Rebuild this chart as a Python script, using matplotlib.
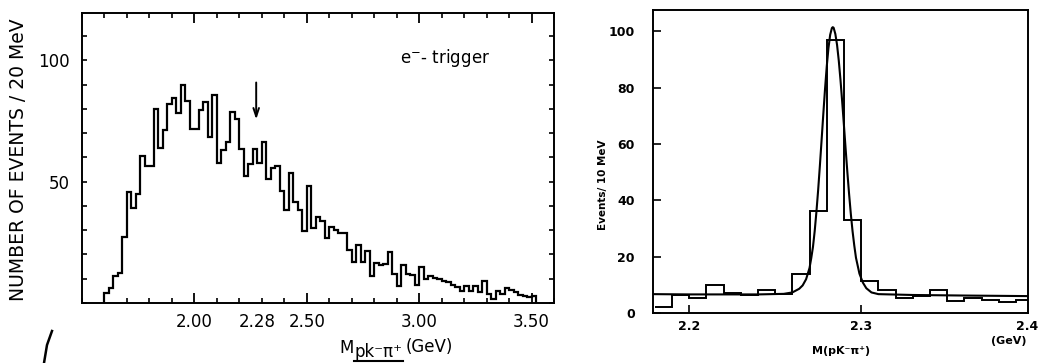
import numpy as np
import matplotlib
matplotlib.use("Agg")
import matplotlib.pyplot as plt
from matplotlib.lines import Line2D
from matplotlib.ticker import MultipleLocator

# left panel: e- trigger, 20 MeV bins starting at 1.60 GeV
left_lo = 1.60
left_bin = 0.02
left_counts = [
    4.3, 6.0, 11.2, 12.4, 27.0, 45.7, 39.0, 45.0, 60.7, 56.5,
    56.5, 80.0, 63.8, 71.4, 82.0, 84.5, 78.3, 89.8, 83.3, 71.6,
    71.6, 79.5, 83.0, 68.6, 85.8, 57.7, 63.0, 66.5, 78.5, 76.0,
    63.6, 52.5, 57.4, 63.4, 57.5, 66.3, 51.0, 55.6, 56.5, 46.0,
    38.5, 53.4, 41.8, 38.5, 29.6, 48.4, 30.8, 35.6, 33.7, 26.9,
    31.4, 30.0, 29.0, 29.0, 22.0, 17.0, 24.0, 17.0, 21.5, 11.0,
    16.5, 15.5, 16.0, 21.0, 12.0, 7.0, 15.5, 12.0, 11.5, 7.5,
    15.0, 10.0, 11.0, 10.5, 9.8, 9.1, 8.5, 7.4, 6.4, 5.0,
    7.1, 5.0, 6.8, 4.4, 9.1, 3.7, 1.6, 5.0, 3.7, 6.0,
    5.5, 4.6, 3.5, 3.0, 2.5, 3.0,
]
left_ticks = [2.00, 2.28, 2.50, 3.00, 3.50]
left_ticklabels = ["2.00", "2.28", "2.50", "3.00", "3.50"]

# right panel: 10 MeV bins starting at 2.18 GeV
right_lo = 2.18
right_bin = 0.01
right_counts = [
    2.1, 6.3, 5.2, 10.0, 7.1, 6.5, 8.1, 6.9, 14.0, 36.2,
    96.8, 33.2, 11.2, 8.0, 5.3, 6.1, 8.2, 4.4, 5.5, 4.6,
    3.8, 4.7,
]

# fitted curve
fit_mass = [2.179, 2.200, 2.220, 2.240, 2.255, 2.260, 2.264, 2.266, 2.268, 2.270,
            2.271, 2.272, 2.273, 2.274, 2.275, 2.276, 2.277, 2.278, 2.279, 2.280,
            2.281, 2.282, 2.283, 2.2835, 2.284, 2.285, 2.286, 2.287, 2.288, 2.289,
            2.290, 2.291, 2.292, 2.293, 2.294, 2.295, 2.296, 2.297, 2.299, 2.301,
            2.303, 2.306, 2.310, 2.330, 2.360, 2.397]
fit_events = [6.7, 6.6, 6.6, 6.6, 6.8, 7.3, 8.6, 9.8, 12.0, 16.0,
              19.5, 23.5, 29.1, 35.9, 43.6, 52.2, 61.3, 70.6, 79.5, 87.5,
              94.1, 98.8, 101.2, 101.5, 101.3, 99.1, 95.2, 89.6, 82.7, 74.9,
              66.6, 58.1, 49.9, 42.2, 35.2, 29.1, 24.0, 19.6, 14.0, 10.8,
              8.8, 7.3, 6.7, 6.4, 6.2, 6.0]

W, H = 1039, 363
fig = plt.figure(figsize=(W / 100, H / 100), dpi=100)
fig.patch.set_facecolor("white")


def fx(px):
    return px / W


def fy(py):
    return 1 - py / H


# ---------------- left panel ----------------
ax1 = fig.add_axes([fx(82), fy(303), fx(554) - fx(82), fy(13) - fy(303)])
left_edges = left_lo + left_bin * np.arange(len(left_counts) + 1)
ax1.stairs(left_counts, left_edges, baseline=0, color="black", lw=1.6)
ax1.set_xlim(1.50, 3.60)
ax1.set_ylim(0, 119.5)

ax1.set_xticks(left_ticks)
ax1.set_xticklabels(left_ticklabels)
ax1.xaxis.set_minor_locator(MultipleLocator(0.1))
ax1.set_yticks([50, 100])
ax1.yaxis.set_minor_locator(MultipleLocator(10))
ax1.tick_params(axis="x", which="major", direction="in", length=7, width=1.3,
                top=True, labelsize=12, pad=7)
ax1.tick_params(axis="x", which="minor", direction="in", length=3.5, width=1.2, top=True)
ax1.tick_params(axis="y", which="both", direction="in", length=3.5, width=1.2,
                right=True, labelsize=12, pad=9)
# no tick mark at 2.28, only the label
t = ax1.xaxis.get_major_ticks()[1]
t.tick1line.set_visible(False)
t.tick2line.set_visible(False)
for s in ax1.spines.values():
    s.set_linewidth(1.4)

ax1.text(2.915, 101, "e$^{-}$- trigger", fontsize=12, ha="left", va="center")
ax1.annotate("", xy=(2.275, 74.5), xytext=(2.275, 92),
             arrowprops=dict(arrowstyle="->,head_length=0.6,head_width=0.2",
                             color="black", lw=1.4))

fig.text(fx(19), fy(160), "NUMBER OF EVENTS / 20 MeV", rotation=90,
         fontsize=13.5, ha="center", va="center")
fig.text(fx(339), fy(348), "M", fontsize=12, ha="left", va="center")
fig.text(fx(354), fy(352), "pk\u207b\u03c0\u207a", fontsize=12, ha="left", va="center")
fig.text(fx(406), fy(347), "(GeV)", fontsize=12, ha="left", va="center")
fig.add_artist(Line2D([fx(354), fx(403)], [fy(361), fy(361)],
                      transform=fig.transFigure, color="black", lw=1.5))
# stray pen stroke on the scan
fig.add_artist(Line2D([fx(44), fx(47), fx(52)], [fy(363), fy(345), fy(331)],
                      transform=fig.transFigure, color="black", lw=1.8))

# ---------------- right panel ----------------
ax2 = fig.add_axes([fx(653), fy(313), fx(1028) - fx(653), fy(10) - fy(313)])
right_edges = right_lo + right_bin * np.arange(len(right_counts) + 1)
ax2.stairs(right_counts, right_edges, baseline=None, color="black", lw=1.4)
ax2.plot(fit_mass, fit_events, color="black", lw=1.5)
ax2.set_xlim(2.179, 2.397)
ax2.set_ylim(0, 107.6)
ax2.set_xticks([2.2, 2.3])
ax2.set_xticklabels(["2.2", "2.3"], fontweight="bold")
ax2.set_yticks([0, 20, 40, 60, 80, 100])
ax2.set_yticklabels(["0", "20", "40", "60", "80", "100"], fontweight="bold")
ax2.tick_params(axis="both", direction="in", length=6, width=1.2, labelsize=9)
ax2.tick_params(axis="y", pad=13)
ax2.tick_params(axis="x", pad=5)
for s in ax2.spines.values():
    s.set_linewidth(1.4)

fig.text(fx(1038), fy(326), "2.4", fontsize=9, fontweight="bold", ha="right", va="center")
fig.text(fx(1009), fy(341), "(GeV)", fontsize=8, fontweight="bold", ha="center", va="center")
fig.text(fx(841), fy(351), "M(pK\u207b\u03c0\u207a)", fontsize=8, fontweight="bold",
         ha="center", va="center")
fig.text(fx(603), fy(185), "Events/ 10 MeV", rotation=90, fontsize=7.5,
         fontweight="bold", ha="center", va="center")

fig.savefig("out.png", dpi=100)
